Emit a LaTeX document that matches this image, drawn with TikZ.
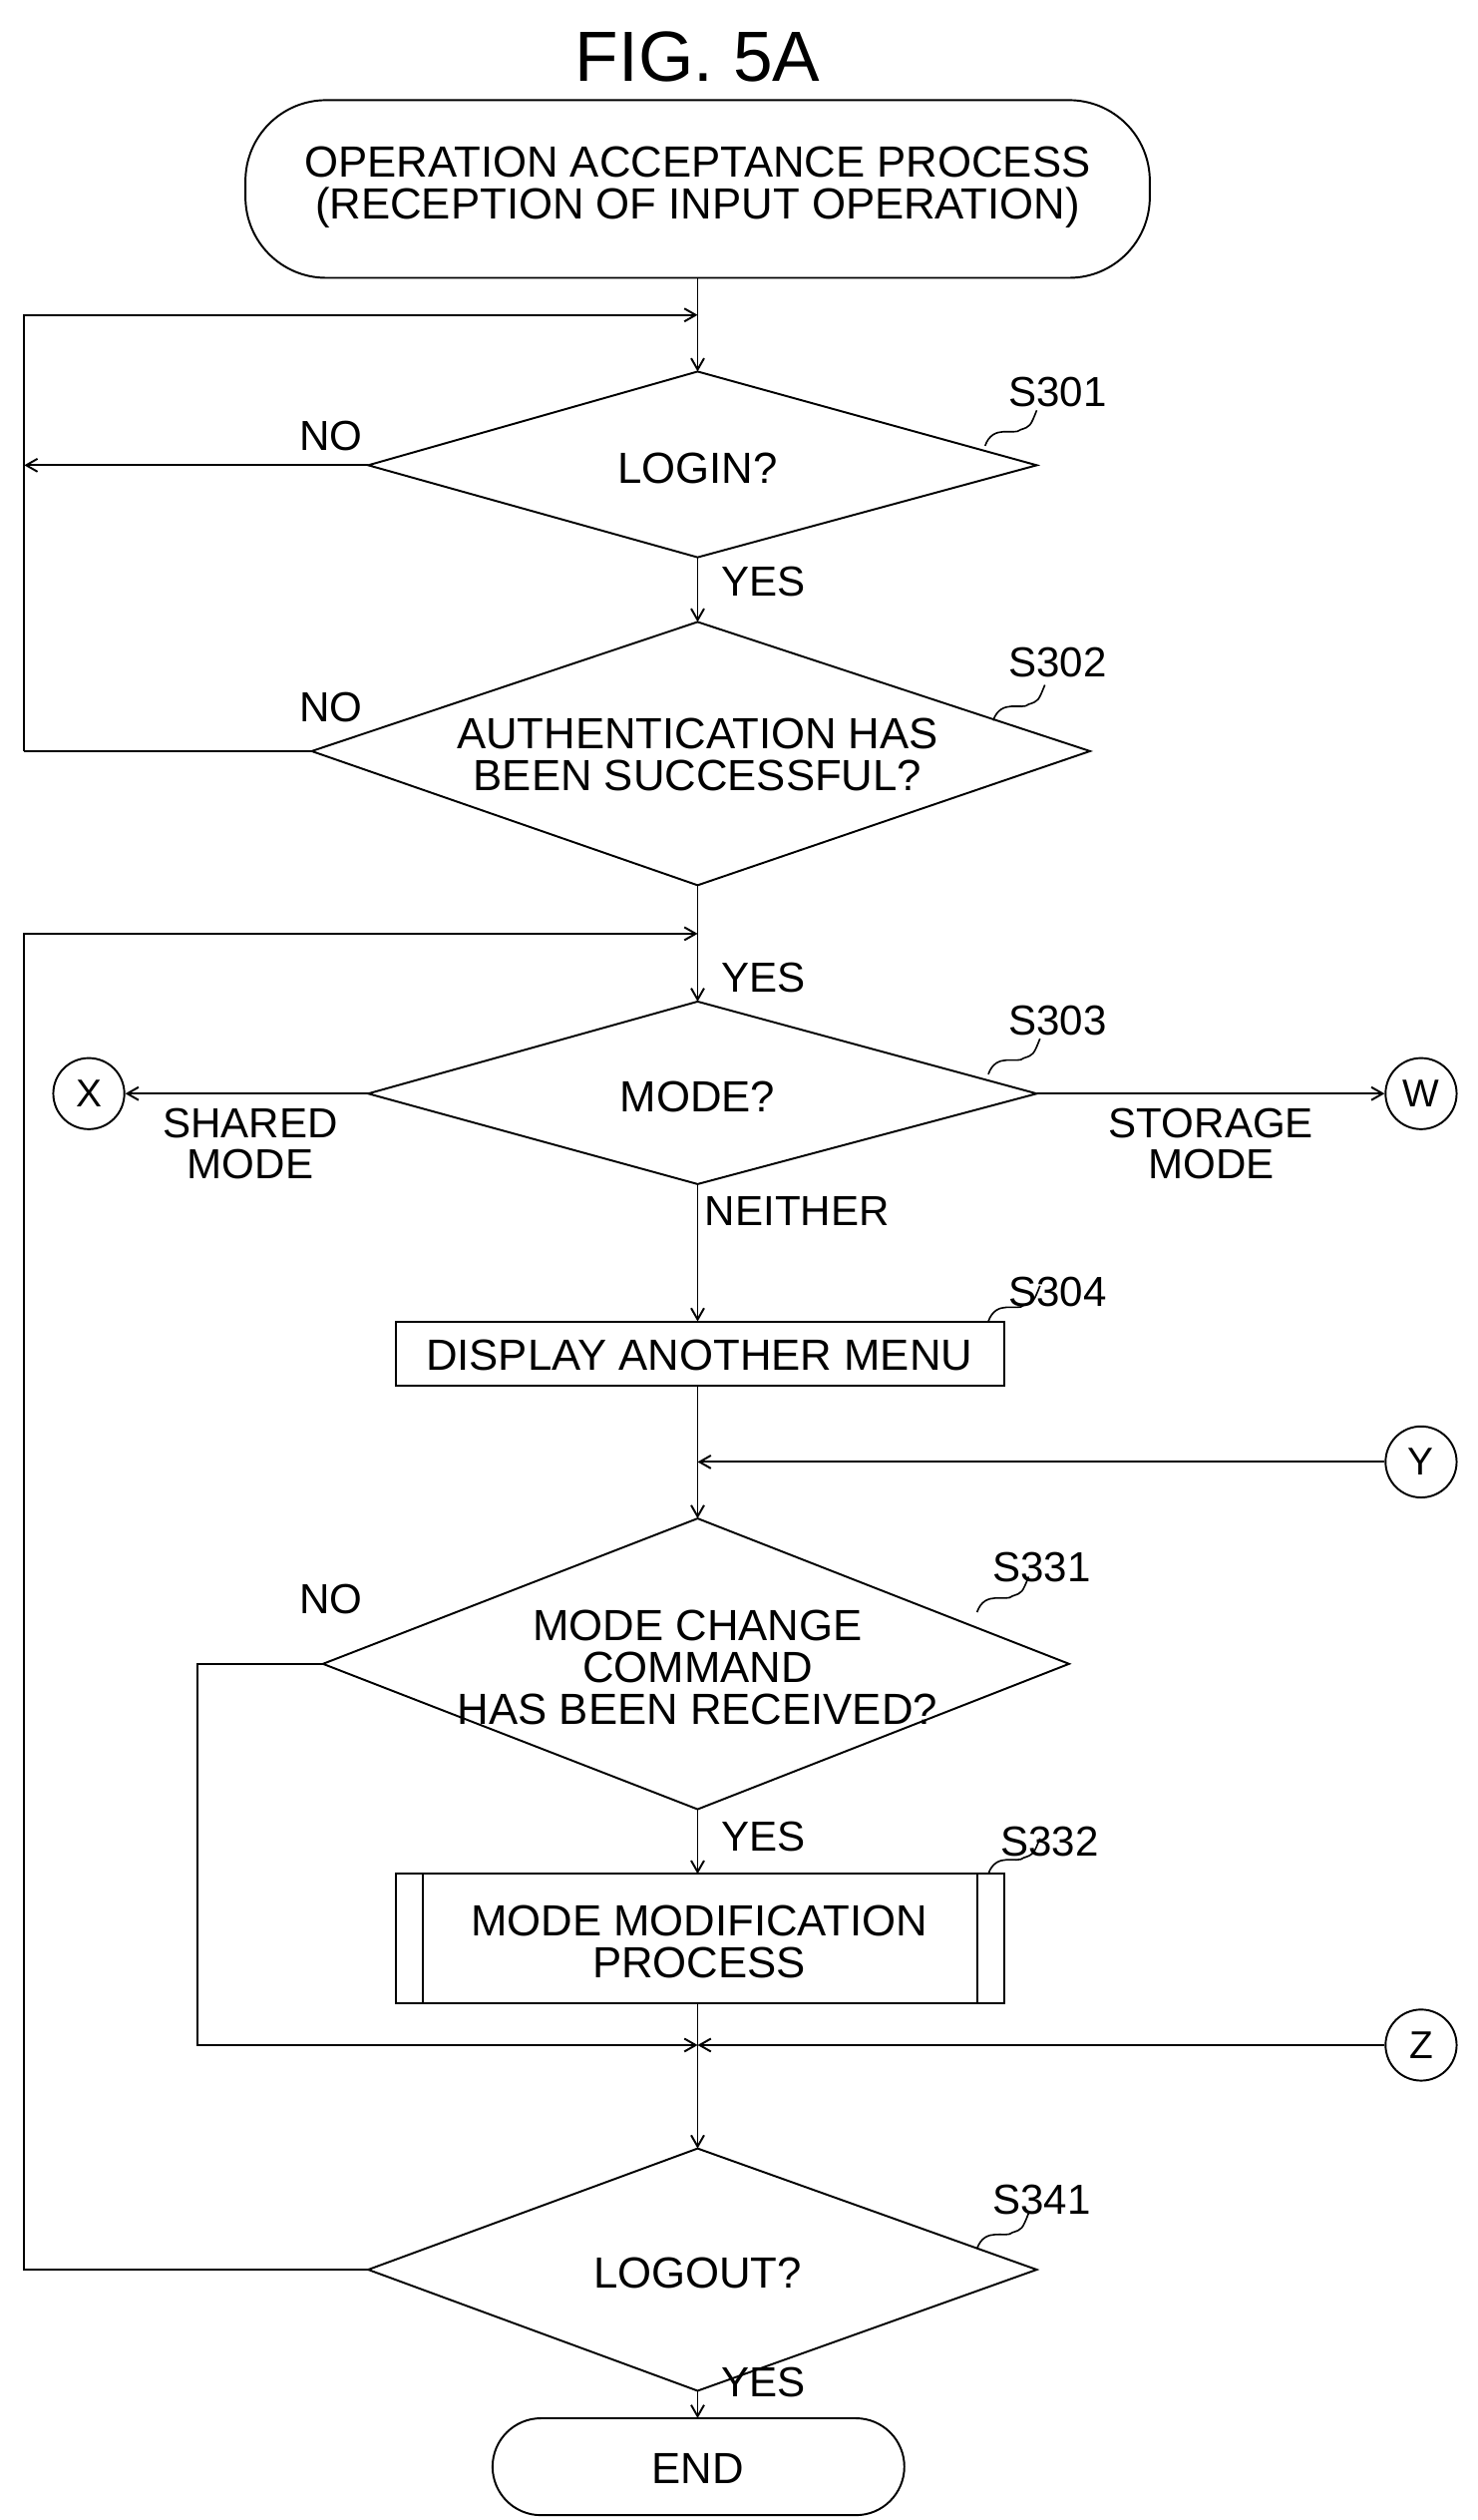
\documentclass[tikz,border=0pt]{standalone}
\usepackage{fontspec}
\setmainfont{Liberation Sans}
\usetikzlibrary{shapes.geometric,arrows.meta}
\begin{document}
\begin{tikzpicture}[x=1pt,y=-1pt,line width=1.2pt,
  txt/.style={font=\fontsize{27}{26}\selectfont,align=center,inner sep=0},
  lbl/.style={font=\fontsize{26}{26}\selectfont,inner sep=0},
  arr/.style={-{Straight Barb[length=7pt,width=8pt]}},
  circ/.style={draw,circle,minimum size=44pt,inner sep=0,font=\fontsize{24}{24}\selectfont}]
\useasboundingbox (0,0) rectangle (915,1560);
\node[font=\fontsize{44}{44}\selectfont] (title) at (432,35) {FIG. 5A};
\draw[rounded corners=50pt] (152,62) rectangle (712,172);
\node[txt] (start) at (432,116) {OPERATION ACCEPTANCE PROCESS\\(RECEPTION OF INPUT OPERATION)};
\coordinate (st) at (432,172);
% diamonds as paths
\draw (432,230) -- (642,288) -- (432,345) -- (228,288) -- cycle;
\node[txt] (d1) at (432,290) {LOGIN?};
\draw (432,385) -- (675,465) -- (432,548) -- (193,465) -- cycle;
\node[txt] (d2) at (432,467) {AUTHENTICATION HAS\\BEEN SUCCESSFUL?};
\draw (432,620) -- (642,677) -- (432,733) -- (228,677) -- cycle;
\node[txt] (d3) at (432,679) {MODE?};
\draw (245,818) rectangle (622,858);
\node[txt] (s304) at (433,839) {DISPLAY ANOTHER MENU};
\draw (432,940) -- (662,1030) -- (432,1120) -- (200,1030) -- cycle;
\node[txt] (d4) at (432,1032) {MODE CHANGE\\COMMAND\\HAS BEEN RECEIVED?};
\draw (245,1160) rectangle (622,1240) (262,1160) -- (262,1240) (605,1160) -- (605,1240);
\node[txt] (s332) at (433,1202) {MODE MODIFICATION\\PROCESS};
\draw (432,1330) -- (642,1405) -- (432,1480) -- (228,1405) -- cycle;
\node[txt] (d5) at (432,1407) {LOGOUT?};
\draw[rounded corners=30pt] (305,1497) rectangle (560,1557);
\node[txt] (end) at (432,1528) {END};
\node[circ] (X) at (55,677) {X};
\node[circ] (W) at (880,677) {W};
\node[circ] (Y) at (880,905) {Y};
\node[circ] (Z) at (880,1266) {Z};
% connectors
\coordinate (j1) at (432,195);
\coordinate (j2) at (432,578);
\coordinate (j3) at (432,905);
\coordinate (j4) at (432,1266);
\draw[arr] (st) -- (432,230);
\draw[arr] (15,465) -- (15,195) -- (j1);
\draw[arr] (228,288) -- (15,288);
\draw (193,465) -- (15,465);
\draw[arr] (432,345) -- (432,385);
\draw[arr] (432,548) -- (432,620);
\draw[arr] (228,1405) -- (15,1405) -- (15,578) -- (j2);
\draw[arr] (228,677) -- (X);
\draw[arr] (642,677) -- (W);
\draw[arr] (432,733) -- (432,818);
\draw[arr] (432,858) -- (432,940);
\draw[arr] (Y) -- (j3);
\draw[arr] (432,1120) -- (432,1160);
\draw[arr] (200,1030) -- (122,1030) -- (122,1266) -- (j4);
\draw[arr] (Z) -- (j4);
\draw[arr] (432,1240) -- (432,1330);
\draw[arr] (432,1480) -- (432,1497);
% labels
\node[lbl] at (205,270) {NO};
\node[lbl] at (205,438) {NO};
\node[lbl] at (205,990) {NO};
\node[lbl,anchor=west] at (446,360) {YES};
\node[lbl,anchor=west] at (446,605) {YES};
\node[lbl,anchor=west] at (446,1137) {YES};
\node[lbl,anchor=west] at (446,1475) {YES};
\node[lbl,anchor=west] at (436,750) {NEITHER};
\node[lbl,align=center,font=\fontsize{26}{25}\selectfont] at (155,708) {SHARED\\MODE};
\node[lbl,align=center,font=\fontsize{26}{25}\selectfont] at (750,708) {STORAGE\\MODE};
% step labels with leaders
\foreach \t/\x/\y/\ex/\ey in {S301/655/243/610/276, S302/655/410/615/446, S303/655/632/612/665, S304/655/800/612/818, S331/645/970/605/998, S332/650/1140/612/1160, S341/645/1362/605/1392}{
  \node[lbl] at (\x,\y) {\t};
  \draw[line width=1pt] (\ex,\ey) .. controls (\ex+5,\ey-14) and (\ex+18,\ey-6) .. (\ex+22,\ey-10) .. controls (\ex+28,\ey-12) .. (\ex+32,\ey-22);
}
\end{tikzpicture}
\end{document}
